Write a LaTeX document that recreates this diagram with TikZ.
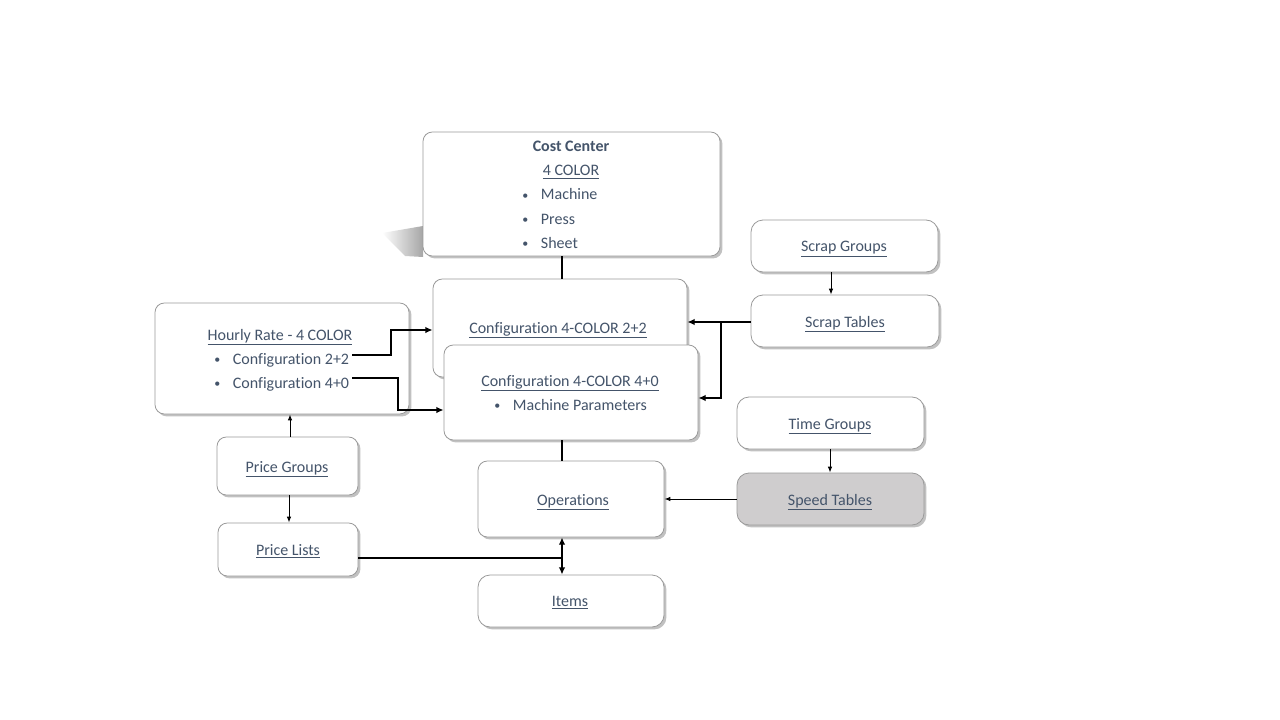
\documentclass[tikz,border=0pt]{standalone}
\usepackage{fontspec}
\setmainfont{Carlito}[Ligatures=NoCommon]
\usetikzlibrary{arrows.meta,shadows}
\definecolor{txt}{HTML}{44546A}
\definecolor{bord}{HTML}{9A9A9A}
\definecolor{spd}{HTML}{CFCDCE}
\tikzset{
  box/.style={draw=bord, line width=0.6pt, fill=white, rounded corners=7pt, inner sep=0pt,
    drop shadow={shadow xshift=1.8pt, shadow yshift=-1.8pt, opacity=0.35, fill=black!70}},
  lbl/.style={text=txt, font=\fontsize{12pt}{14pt}\selectfont, inner sep=0pt, anchor=base},
  lbll/.style={lbl, anchor=base west},
  thick conn/.style={line width=1.5pt, -{Latex[length=5.5pt,width=5pt]}},
  thin conn/.style={line width=0.75pt, -{Latex[length=4.5pt,width=3.5pt]}},
  plain conn/.style={line width=1.5pt},
}
\newcommand{\ul}[1]{\underline{#1}}
\newcommand{\bul}{\raisebox{0.5pt}{\fontsize{9pt}{9pt}\selectfont •}\hspace{9.5pt}}
\begin{document}
\begin{tikzpicture}[x=0.75pt,y=-0.75pt]
\useasboundingbox (0,0) rectangle (1280,720);
% odd shadow of cost center
\shade[left color=white, right color=black!35] (382,233) -- (423,226) -- (423,257) -- (405,256) -- cycle;
% boxes
\node[box, minimum width=297*0.75pt, minimum height=124*0.75pt] (cc) at (571.5,194) {};
\node[box, minimum width=254*0.75pt, minimum height=98*0.75pt] (c22) at (560,328) {};
\node[box, minimum width=254*0.75pt, minimum height=95*0.75pt] (c40) at (571,392.5) {};
\node[box, minimum width=254*0.75pt, minimum height=111*0.75pt] (hr) at (282,358.5) {};
\node[box, minimum width=141*0.75pt, minimum height=58*0.75pt] (pg) at (287.5,466) {};
\node[box, minimum width=140*0.75pt, minimum height=53*0.75pt] (pl) at (288,549.5) {};
\node[box, minimum width=186*0.75pt, minimum height=76*0.75pt] (op) at (571,499) {};
\node[box, rounded corners=9pt, minimum width=186*0.75pt, minimum height=52*0.75pt] (it) at (571,601) {};
\node[box, rounded corners=9pt, minimum width=187*0.75pt, minimum height=52*0.75pt] (sg) at (844.5,246) {};
\node[box, rounded corners=9pt, minimum width=188*0.75pt, minimum height=52*0.75pt] (st) at (845,321) {};
\node[box, rounded corners=9pt, minimum width=187*0.75pt, minimum height=52*0.75pt] (tg) at (830.5,423) {};
\node[box, rounded corners=9pt, fill=spd, minimum width=187*0.75pt, minimum height=52*0.75pt] (sp) at (830.5,499) {};
% texts
\node[lbl, font=\fontsize{12pt}{14pt}\selectfont\bfseries] (cct) at (571,152) {Cost Center};
\node[lbl] (cc4) at (571,176) {\ul{4 COLOR}};
\node[lbll] (ccb1) at (522,200) {\bul Machine};
\node[lbll] (ccb2) at (522,224) {\bul Press};
\node[lbll] (ccb3) at (522,248) {\bul Sheet};
\node[lbl] (c22t) at (558,333) {\ul{Configuration 4-COLOR 2+2}};
\node[lbl] (c40t) at (570,386) {\ul{Configuration 4-COLOR 4+0}};
\node[lbll] (c40b) at (494,410) {\bul Machine Parameters};
\node[lbl] (hrt) at (280,340) {\ul{Hourly Rate - 4 COLOR}};
\node[lbll] (hrb1) at (214,364) {\bul Configuration 2+2};
\node[lbll] (hrb2) at (214,388) {\bul Configuration 4+0};
\node[lbl] (pgt) at (287,472) {\ul{Price Groups}};
\node[lbl] (plt) at (288,555) {\ul{Price Lists}};
\node[lbl] (opt) at (573,505) {\ul{Operations}};
\node[lbl] (itt) at (570,606) {\ul{Items}};
\node[lbl] (sgt) at (844,252) {\ul{Scrap Groups}};
\node[lbl] (stt) at (845,327) {\ul{Scrap Tables}};
\node[lbl] (tgt) at (830,429) {\ul{Time Groups}};
\node[lbl] (spt) at (830,505) {\ul{Speed Tables}};
% coordinates
\coordinate (h1) at (352,355);
\coordinate (h2) at (352,378);
\coordinate (bb) at (562,558);
% connectors
\draw[plain conn] (cc.south -| 562,0) -- (c22.north -| 562,0);
\draw[plain conn] (c40.south -| 562,0) -- (op.north -| 562,0);
\draw[thick conn] (h1) -- (391,355) -- (391,330) -- (c22.west |- 0,330);
\draw[thick conn] (h2) -- (398,378) -- (398,410) -- (c40.west |- 0,410);
\draw[thick conn] (st.west |- 0,322) -- (c22.east |- 0,322);
\draw[thick conn] (721,322) -- (721,398) -- (c40.east |- 0,398);
\draw[thin conn] (sg.south -| 831,0) -- (st.north -| 831,0);
\draw[thin conn] (tg.south -| 830,0) -- (sp.north -| 830,0);
\draw[thin conn] (sp.west) -- (op.east);
\draw[thin conn] (pg.north -| 290,0) -- (hr.south -| 290,0);
\draw[thin conn] (pg.south -| 289,0) -- (pl.north -| 289,0);
\draw[plain conn] (pl.east |- bb) -- (bb);
\draw[line width=1.5pt, {Latex[length=5.5pt,width=5pt]}-{Latex[length=5.5pt,width=5pt]}] (op.south -| 562,0) -- (it.north -| 562,0);
\end{tikzpicture}
\end{document}
